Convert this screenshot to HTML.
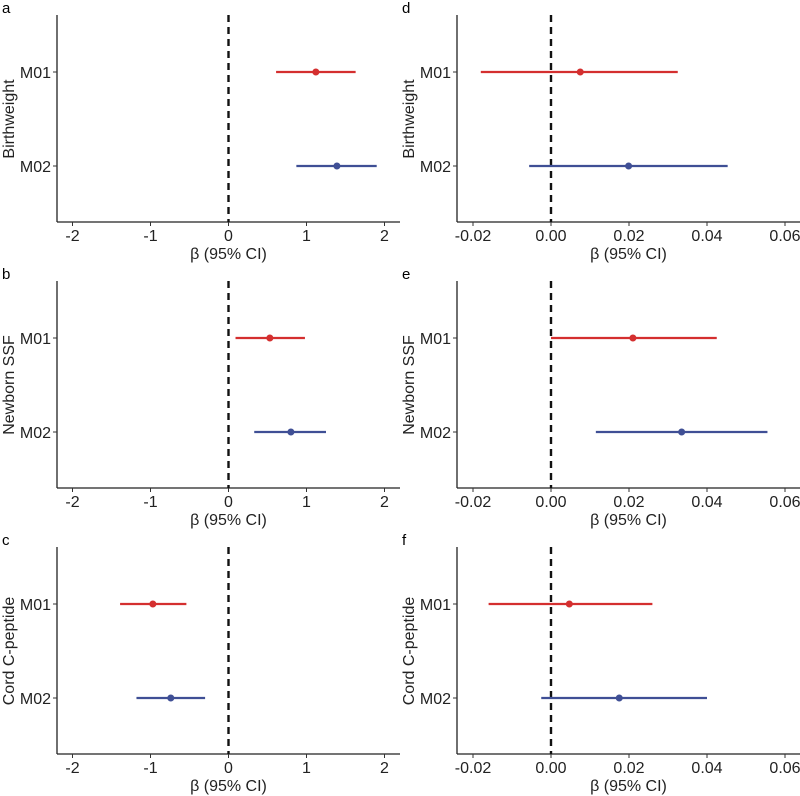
<!DOCTYPE html>
<html><head><meta charset="utf-8"><style>
body{margin:0;background:#fff}
svg{display:block;font-family:"Liberation Sans",Arial,sans-serif}
</style></head><body>
<svg id="fig" width="800" height="796"></svg>
<script>
const panelLetters=["a","b","c","d","e","f"];
const outcomes=["Birthweight","Newborn SSF","Cord C-peptide","Birthweight","Newborn SSF","Cord C-peptide"];
const models=["M01","M02"];
const estM01=[1.12,0.53,-0.97,0.0075,0.021,0.0047];
const lowM01=[0.61,0.09,-1.39,-0.018,0.0,-0.016];
const highM01=[1.63,0.98,-0.54,0.0325,0.0425,0.026];
const estM02=[1.39,0.8,-0.74,0.0199,0.0335,0.0175];
const lowM02=[0.87,0.33,-1.18,-0.0056,0.0115,-0.0025];
const highM02=[1.9,1.25,-0.3,0.0453,0.0555,0.040];
const leftTicks=[-2,-1,0,1,2];
const leftTickLabels=["-2","-1","0","1","2"];
const rightTicks=[-0.02,0,0.02,0.04,0.06];
const rightTickLabels=["-0.02","0.00","0.02","0.04","0.06"];
const colors=["#d42f2f","#3f4f95"];

const NS="http://www.w3.org/2000/svg";
const svg=document.getElementById('fig');
function mk(tag,attrs,parent){const e=document.createElementNS(NS,tag);for(const k in attrs)e.setAttribute(k,attrs[k]);(parent||svg).appendChild(e);return e;}

for(let p=0;p<6;p++){
  const col=p<3?0:1,row=p%3;
  const ox=col*400, oy=row*266;
  const axX=ox+57, top=oy+15, bottom=oy+222, right=ox+400;
  const x0=col===0?ox+228.5:ox+151;
  const scale=col===0?78:3900;
  const xs=v=>x0+v*scale;
  const ys=i=>oy+72+i*94;
  const ticks=col===0?leftTicks:rightTicks;
  const tl=col===0?leftTickLabels:rightTickLabels;
  const g=mk('g',{});
  
  
  const lt=mk('text',{x:ox+2,y:oy+13,'font-size':15,fill:'#000'},g);lt.textContent=panelLetters[p];
  
  const ya=mk('line',{x1:axX,y1:top,x2:axX,y2:bottom,stroke:'#222','stroke-width':1.3},g);
  
  const xa=mk('line',{x1:axX,y1:bottom,x2:right,y2:bottom,stroke:'#222','stroke-width':1.3},g);
  
  ticks.forEach((t,i)=>{
    mk('line',{x1:xs(t),y1:bottom,x2:xs(t),y2:bottom+4,stroke:'#333','stroke-width':1},g);
    const tx=mk('text',{x:xs(t),y:bottom+19,'font-size':16,'text-anchor':'middle',fill:'#222'},g);tx.textContent=tl[i];
    
  });
  const xt=mk('text',{x:(axX+right)/2,y:bottom+37,'font-size':16,'text-anchor':'middle',fill:'#222'},g);xt.textContent='β (95% CI)';
  
  const yt=mk('text',{x:0,y:0,'font-size':16,'text-anchor':'middle',fill:'#222',transform:`translate(${ox+14},${oy+119}) rotate(-90)`},g);yt.textContent=outcomes[p];
  
  const rl=mk('line',{x1:xs(0),y1:top,x2:xs(0),y2:bottom,stroke:'#111','stroke-width':2.4,'stroke-dasharray':'7,5'},g);
  
  const est=[estM01[p],estM02[p]],lo=[lowM01[p],lowM02[p]],hi=[highM01[p],highM02[p]];
  models.forEach((m,i)=>{
    mk('line',{x1:axX-4,y1:ys(i),x2:axX,y2:ys(i),stroke:'#333','stroke-width':1},g);
    const ml=mk('text',{x:axX-6,y:ys(i)+6,'font-size':16,'text-anchor':'end',fill:'#222'},g);ml.textContent=m;
    
    const ci=mk('line',{x1:xs(lo[i]),y1:ys(i),x2:xs(hi[i]),y2:ys(i),stroke:colors[i],'stroke-width':2.2},g);
    
    const pt=mk('circle',{cx:xs(est[i]),cy:ys(i),r:3.5,fill:colors[i]},g);
    
  });
}
</script>
</body></html>
